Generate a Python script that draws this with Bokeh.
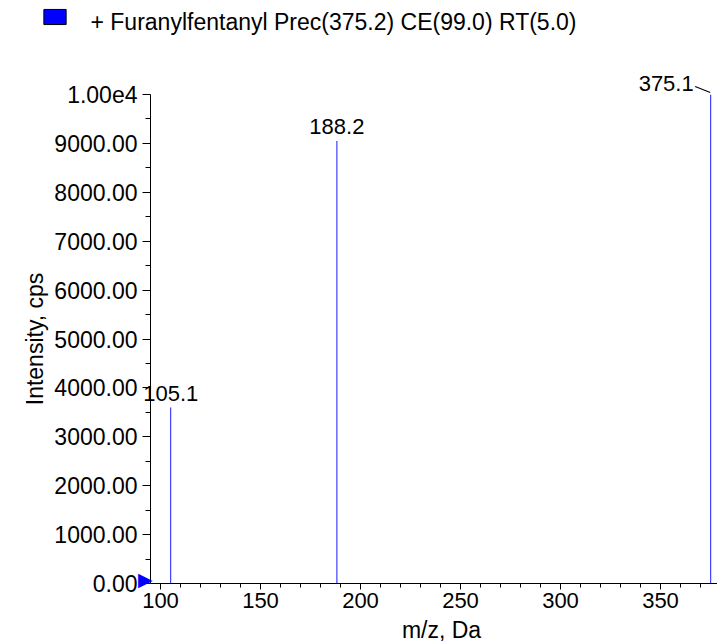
import math
from bokeh.plotting import figure
from bokeh.models import FixedTicker, Label, Range1d
from bokeh.embed import file_html
from bokeh.resources import INLINE

# ---- data ----
mz = [105.1, 188.2, 375.1]
intensity = [3600, 9050, 10000]
peak_labels = ["105.1", "188.2", "375.1"]

x_ticks = [100, 150, 200, 250, 300, 350]
x_minor = [100, 110, 120, 130, 140, 150, 160, 170, 180, 190, 200, 210, 220, 230, 240,
           250, 260, 270, 280, 290, 300, 310, 320, 330, 340, 350, 360, 370]
y_ticks = [0, 1000, 2000, 3000, 4000, 5000, 6000, 7000, 8000, 9000, 10000]
y_tick_labels = ["0.00", "1000.00", "2000.00", "3000.00", "4000.00", "5000.00",
                 "6000.00", "7000.00", "8000.00", "9000.00", "1.00e4"]
y_minor = [500, 1500, 2500, 3500, 4500, 5500, 6500, 7500, 8500, 9500]

legend_text = "+ Furanylfentanyl Prec(375.2) CE(99.0) RT(5.0)"
x_title = "m/z, Da"
y_title = "Intensity, cps"

X_START, X_END = 95, 378.5
Y_START, Y_END = 0, 10000

W, H = 717, 641
ML, MR, MT, MB = 150, 0, 94, 58
FW = W - ML - MR
FH = H - MT - MB

FONT = "Liberation Sans"


def dx(px):
    """screen pixels -> x data units"""
    return px * (X_END - X_START) / FW


def dy(px):
    """screen pixels (upwards) -> y data units"""
    return px * (Y_END - Y_START) / FH


def fx(page_x):
    return X_START + dx(page_x - ML)


def fy(page_y):
    return Y_START + dy(MT + FH - page_y)


p = figure(width=W, height=H, output_backend="svg", toolbar_location=None,
           x_range=Range1d(X_START, X_END), y_range=Range1d(Y_START, Y_END),
           min_border_left=ML, min_border_right=MR, min_border_top=MT, min_border_bottom=MB)

p.segment(x0=mz, y0=[0] * len(mz), x1=mz, y1=intensity, line_color="#1a1aff", line_width=1)

p.xgrid.grid_line_color = None
p.ygrid.grid_line_color = None
p.outline_line_color = None
p.background_fill_color = "white"
p.border_fill_color = "white"

# axes
xa = p.xaxis[0]
xa.ticker = FixedTicker(ticks=x_ticks, minor_ticks=x_minor)
xa.major_label_text_font = FONT
xa.major_label_text_font_size = "22px"
xa.major_label_text_color = "black"
xa.major_label_standoff = 3
xa.major_tick_out = 6
xa.major_tick_in = 0
xa.minor_tick_out = 4
xa.minor_tick_in = 0
xa.axis_line_color = "black"
xa.major_tick_line_color = "black"
xa.minor_tick_line_color = "black"

ya = p.yaxis[0]
ya.ticker = FixedTicker(ticks=y_ticks, minor_ticks=y_minor)
ya.major_label_overrides = dict(zip(y_ticks, y_tick_labels))
ya.major_label_text_font = FONT
ya.major_label_text_font_size = "23px"
ya.major_label_text_color = "black"
ya.major_label_standoff = 5
ya.major_tick_out = 8
ya.major_tick_in = 0
ya.minor_tick_out = 5
ya.minor_tick_in = 0
ya.axis_line_color = "black"
ya.major_tick_line_color = "black"
ya.minor_tick_line_color = "black"
ya.axis_label = y_title
ya.axis_label_text_font = FONT
ya.axis_label_text_font_size = "23px"
ya.axis_label_text_font_style = "normal"
ya.axis_label_text_color = "black"
ya.axis_label_standoff = 3

# x axis title (bottom panel, positioned through the plot's scales)
p.add_layout(Label(x=fx(441), y=fy(629), text=x_title,
                   text_align="center", text_baseline="middle",
                   text_font=FONT, text_font_size="23px", text_color="black"), "below")

# precursor marker triangle at the y-axis origin (left panel: not clipped by the frame)
p.add_layout(Label(x=fx(152), y=fy(578.5), text="\u25B6",
                   text_align="right", text_baseline="middle",
                   text_font="DejaVu Sans", text_font_size="19px", text_color="#0000ff"), "left")

# peak labels (placed in side panels where they reach outside the frame)
label_raise = [13.5, 14, 11]
for i, (m, h, t) in enumerate(zip(mz, intensity, peak_labels)):
    last = i == len(mz) - 1
    lab = Label(x=m, y=h, text=t,
                x_offset=-17 if last else 0, y_offset=label_raise[i],
                text_align="right" if last else "center", text_baseline="middle",
                text_font=FONT, text_font_size="22px", text_color="black")
    p.add_layout(lab, "center" if i == 1 else "above")

# leader line for the base peak label: a thin rotated box
lead_dx, lead_dy = 15, 6
p.add_layout(Label(x=mz[-1] - dx(lead_dx / 2 + 0.5), y=intensity[-1] + dy(lead_dy / 2 + 2), text=" ",
                   angle=-math.atan2(lead_dy, lead_dx),
                   text_align="center", text_baseline="middle",
                   text_font=FONT, text_font_size="1px",
                   background_fill_color="black",
                   padding=dict(left=8, right=8, top=0, bottom=0)), "above")

# legend (colour box + text) above the plot
p.add_layout(Label(x=fx(54.5), y=fy(16.5), text=" ",
                   text_align="center", text_baseline="middle",
                   text_font=FONT, text_font_size="1px",
                   background_fill_color="#0000ff", border_line_color="black",
                   border_line_width=1, padding=dict(left=11, right=11, top=7, bottom=7)), "above")
p.add_layout(Label(x=fx(90), y=fy(21), text=legend_text,
                   text_baseline="middle", text_font=FONT, text_font_size="23px",
                   text_color="black"), "above")

open("out.html", "w").write(file_html(p, INLINE))
